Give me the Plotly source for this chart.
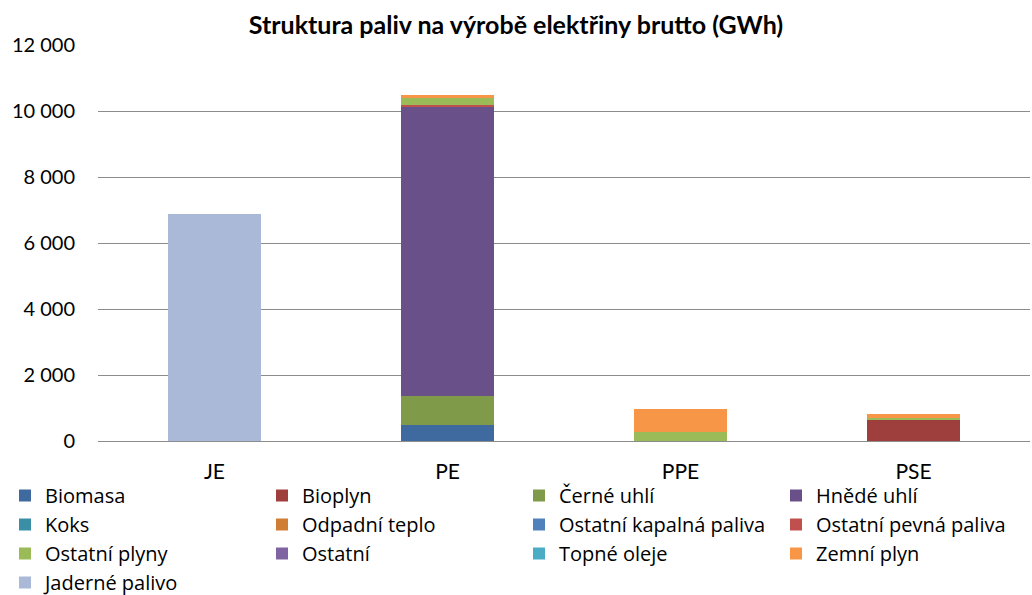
import plotly.graph_objects as go

categories = ["JE", "PE", "PPE", "PSE"]

series_names = [
    "Biomasa", "Bioplyn", "Černé uhlí", "Hnědé uhlí",
    "Koks", "Odpadní teplo", "Ostatní kapalná paliva", "Ostatní pevná paliva",
    "Ostatní plyny", "Ostatní", "Topné oleje", "Zemní plyn",
    "Jaderné palivo",
]

# GWh per category (JE, PE, PPE, PSE)
biomasa = [0, 490, 0, 0]
bioplyn = [0, 0, 0, 640]
cerne_uhli = [0, 875, 0, 0]
hnede_uhli = [0, 8760, 0, 0]
koks = [0, 0, 0, 0]
odpadni_teplo = [0, 0, 0, 0]
ostatni_kapalna = [0, 0, 0, 0]
ostatni_pevna = [0, 50, 0, 0]
ostatni_plyny = [0, 220, 280, 70]
ostatni = [0, 0, 0, 0]
topne_oleje = [0, 0, 0, 0]
zemni_plyn = [0, 100, 690, 120]
jaderne_palivo = [6880, 0, 0, 0]

series_values = [
    biomasa, bioplyn, cerne_uhli, hnede_uhli,
    koks, odpadni_teplo, ostatni_kapalna, ostatni_pevna,
    ostatni_plyny, ostatni, topne_oleje, zemni_plyn,
    jaderne_palivo,
]

colors = [
    "#3F6A9F", "#9E3F3D", "#7F9A48", "#6A5089",
    "#3A8FA6", "#D17E35", "#4F81BD", "#C0504D",
    "#9BBB59", "#8064A2", "#4BACC6", "#F79646",
    "#AAB9D7",
]

y_ticks = [0, 2000, 4000, 6000, 8000, 10000, 12000]

FONT = "Lato, Open Sans, sans-serif"
LEGEND_FONT = "Open Sans, Lato, sans-serif"

# plot area in pixels
W, H = 1032, 595
L, R, T, B = 98, 2, 45, 154
plot_w = W - L - R
plot_h = H - T - B

fig = go.Figure()
for name, vals, col in zip(series_names, series_values, colors):
    fig.add_trace(go.Bar(
        name=name, x=categories, y=vals,
        marker=dict(color=col, line=dict(width=0)),
    ))

fig.update_layout(
    barmode="stack",
    bargap=0.6,
    width=W, height=H,
    margin=dict(l=L, r=R, t=T, b=B, autoexpand=False),
    paper_bgcolor="white", plot_bgcolor="white",
    separators=", ",
    font=dict(family=FONT, size=20, color="#000000"),
    title=dict(
        text="<b>Struktura paliv na výrobě elektřiny brutto (GWh)</b>",
        x=0.5, xanchor="center", y=0.958, yanchor="middle",
        font=dict(family=FONT, size=25, color="#000000"),
    ),
    xaxis=dict(
        showline=False, showgrid=False, ticks="",
        tickfont=dict(size=21),
        ticklabelstandoff=16,
    ),
    yaxis=dict(
        range=[0, 12000], tickvals=y_ticks, tickformat=",d",
        showgrid=True, gridcolor="#8C8C8C", gridwidth=1.3,
        zeroline=True, zerolinecolor="#8C8C8C", zerolinewidth=1.3,
        showline=False, ticks="", ticklen=0,
        tickfont=dict(size=20),
        ticklabelstandoff=22,
    ),
    legend=dict(
        orientation="h",
        x=(5 - L) / plot_w, xanchor="left",
        y=(H - B - 476) / plot_h, yanchor="top",
        entrywidth=212, entrywidthmode="pixels",
        traceorder="normal",
        bgcolor="rgba(0,0,0,0)",
        font=dict(family=LEGEND_FONT, size=20, color="#000000"),
        itemsizing="constant",
        tracegroupgap=0,
    ),
)

fig.write_html("out.html")
